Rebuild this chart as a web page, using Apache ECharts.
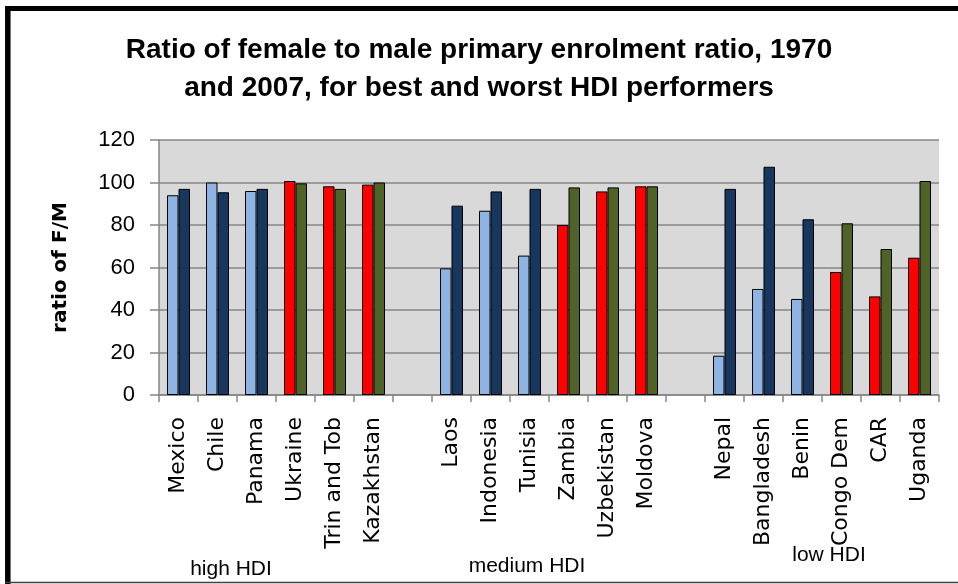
<!DOCTYPE html>
<html>
<head>
<meta charset="utf-8">
<script src="https://cdn.jsdelivr.net/npm/echarts@6/dist/echarts.min.js"></script>
<style>
html,body{margin:0;padding:0;background:#fff;}
#chart{width:958px;height:584px;}
</style>
</head>
<body>
<div id="chart"></div>
<script>
// ---- data ----
var categories = ['Mexico','Chile','Panama','Ukraine','Trin and Tob','Kazakhstan','',
                  'Laos','Indonesia','Tunisia','Zambia','Uzbekistan','Moldova','',
                  'Nepal','Bangladesh','Benin','Congo Dem','CAR','Uganda'];
var values1970 = [94, 100, 96, 100.7, 98.2, 99, null,
                  59.6, 86.7, 65.6, 80, 95.8, 98.2, null,
                  18.5, 49.9, 45.2, 57.9, 46.4, 64.6];
var values2007 = [97, 95.4, 97, 99.6, 97, 100, null,
                  89.1, 95.8, 97, 97.7, 97.7, 98.2, null,
                  97, 107.4, 82.7, 80.8, 68.7, 100.7];
// performance type of each country: 'best' (blue pair) or 'worst' (red/green pair)
var performer = ['best','best','best','worst','worst','worst','',
                 'best','best','best','worst','worst','worst','',
                 'best','best','best','worst','worst','worst'];
var groupLabels = ['high HDI','medium HDI','low HDI'];
var yTicks = [0, 20, 40, 60, 80, 100, 120];
var titleLines = ['Ratio of female to male primary enrolment ratio, 1970',
                  'and 2007, for best and worst HDI performers'];
var yAxisTitle = 'ratio of F/M';

// ---- styles ----
var colors = {
  best: ['#8EB4E3', '#17375E'],
  worst: ['#FF0000', '#4F6228']
};

function buildData(vals, idx) {
  return vals.map(function (v, i) {
    if (v === null) return null;
    var c = (colors[performer[i]] || colors.best)[idx];
    return { value: v, itemStyle: { color: c } };
  });
}

var chart = echarts.init(document.getElementById('chart'), null, { renderer: 'canvas' });

var option = {
  animation: false,
  backgroundColor: '#ffffff',
  grid: { left: 159, right: 19, top: 140, bottom: 189, containLabel: false,
          show: true, backgroundColor: '#D9D9D9', borderWidth: 0 },
  xAxis: {
    type: 'category',
    data: categories,
    axisLine: { lineStyle: { color: '#868686', width: 1.5 } },
    axisTick: { show: true, length: 7, lineStyle: { color: '#868686', width: 1.5 } },
    axisLabel: { rotate: 90, margin: 22, color: '#000', fontFamily: 'DejaVu Sans', fontSize: 22, interval: 0 }
  },
  yAxis: {
    type: 'value',
    min: yTicks[0], max: yTicks[yTicks.length - 1], interval: 20,
    name: yAxisTitle,
    nameLocation: 'middle',
    nameGap: 88,
    nameRotate: 90,
    nameTextStyle: { fontFamily: 'DejaVu Sans', fontWeight: 'bold', fontSize: 20, color: '#000' },
    axisLine: { show: true, lineStyle: { color: '#868686', width: 1.5 } },
    axisTick: { show: true, length: 9, lineStyle: { color: '#868686', width: 1.5 } },
    axisLabel: { margin: 24, color: '#000', fontFamily: 'Liberation Sans', fontSize: 22 },
    splitLine: { show: true, lineStyle: { color: '#868686', width: 1.5 } }
  },
  series: [
    { type: 'bar', name: '1970', data: buildData(values1970, 0), barWidth: 11.5, barGap: '0%',
      itemStyle: { borderColor: '#000', borderWidth: 1 } },
    { type: 'bar', name: '2007', data: buildData(values2007, 1), barWidth: 11.5, barGap: '0%',
      itemStyle: { borderColor: '#000', borderWidth: 1 } }
  ],
  graphic: [
    { type: 'text', left: 'center', top: 36, style: { text: titleLines[0], fill: '#000',
      font: 'bold 28px "Liberation Sans"' } },
    { type: 'text', left: 'center', top: 74, style: { text: titleLines[1], fill: '#000',
      font: 'bold 28px "Liberation Sans"' } },
    { type: 'text', x: 231, y: 569, style: { text: groupLabels[0], fill: '#000', align: 'center', verticalAlign: 'middle',
      font: '21px "Liberation Sans"' } },
    { type: 'text', x: 527, y: 566, style: { text: groupLabels[1], fill: '#000', align: 'center', verticalAlign: 'middle',
      font: '21px "Liberation Sans"' } },
    { type: 'text', x: 829, y: 555, style: { text: groupLabels[2], fill: '#000', align: 'center', verticalAlign: 'middle',
      font: '21px "Liberation Sans"' } },
    { type: 'line', shape: { x1: 5, y1: 8.5, x2: 958, y2: 8.5 }, style: { stroke: '#000', lineWidth: 5 } },
    { type: 'line', shape: { x1: 7.8, y1: 6, x2: 7.8, y2: 584 }, style: { stroke: '#000', lineWidth: 5.5 } },
    { type: 'line', shape: { x1: 5, y1: 582.5, x2: 958, y2: 582.5 }, style: { stroke: '#404040', lineWidth: 1.5 } }
  ]
};
chart.setOption(option);
</script>
</body>
</html>
